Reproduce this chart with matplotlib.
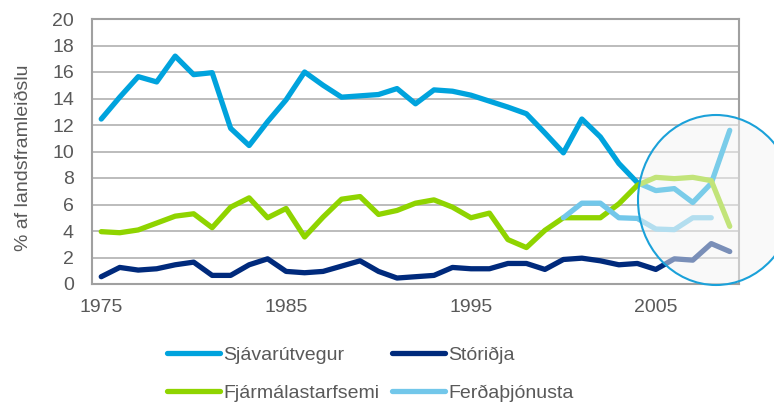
import numpy as np
import matplotlib
matplotlib.use("Agg")
import matplotlib.pyplot as plt
from matplotlib.patches import Ellipse

plt.rcParams['font.family'] = ['Liberation Sans', 'DejaVu Sans']

years = list(range(1975, 2010))

sjavarutvegur = [12.45, 14.1, 15.65, 15.25, 17.2, 15.8, 15.95, 11.75, 10.45, 12.25,
                 13.9, 16.0, 15.0, 14.1, 14.2, 14.3, 14.75, 13.6, 14.65, 14.55,
                 14.25, 13.8, 13.35, 12.85, 11.4, 9.9, 12.45, 11.1, 9.1, 7.65,
                 7.05, 7.2, 6.15, 7.6, 11.6]
storidja = [0.55, 1.25, 1.05, 1.15, 1.45, 1.65, 0.65, 0.65, 1.45, 1.9,
            0.95, 0.85, 0.95, 1.35, 1.75, 0.95, 0.45, 0.55, 0.65, 1.25,
            1.15, 1.15, 1.55, 1.55, 1.1, 1.85, 1.95, 1.75, 1.45, 1.55,
            1.1, 1.9, 1.8, 3.05, 2.45]
fjarmal = [3.95, 3.87, 4.08, 4.6, 5.12, 5.3, 4.25, 5.8, 6.5, 5.0,
           5.7, 3.55, 5.05, 6.4, 6.6, 5.25, 5.55, 6.1, 6.35, 5.8,
           5.0, 5.35, 3.35, 2.75, 4.05, 5.0, 5.0, 5.0, 6.05, 7.45,
           8.05, 7.95, 8.05, 7.8, 4.35]
ferda_years = list(range(2000, 2009))
ferdathjonusta = [5.0, 6.1, 6.1, 5.0, 4.95, 4.15, 4.1, 5.0, 5.0]

labels = ["Sjávarútvegur", "Stóriðja", "Fjármálastarfsemi", "Ferðaþjónusta"]
colors = ["#00A3DD", "#002A7C", "#8FD400", "#72C7EA"]
grey = "#595959"

fig = plt.figure(figsize=(7.74, 4.03), dpi=100)
ax = fig.add_axes([92/774, 1-284/403, 647/774, 265/403])

lw = 3.8
kw = dict(linewidth=lw, solid_capstyle='round', solid_joinstyle='round', zorder=3)
l1, = ax.plot(years, sjavarutvegur, color=colors[0], **kw)
l2, = ax.plot(years, storidja, color=colors[1], **kw)
l3, = ax.plot(years, fjarmal, color=colors[2], **kw)
l4, = ax.plot(ferda_years, ferdathjonusta, color=colors[3], **kw)

ax.set_xlim(1974.5, 2009.5)
ax.set_ylim(0, 20)
ax.set_yticks(range(0, 21, 2))
ax.set_xticks([1975, 1985, 1995, 2005])
ax.grid(axis='y', color='#B0B0B0', linewidth=1.2, zorder=1)
ax.set_axisbelow(True)
for s in ax.spines.values():
    s.set_color('#A0A0A0')
    s.set_linewidth(1.5)
ax.tick_params(axis='both', length=0, labelsize=14, colors=grey)
ax.tick_params(axis='y', pad=13)
ax.tick_params(axis='x', pad=11)

ax.set_ylabel("% af landsframleiðslu", fontsize=14, color=grey)
ax.yaxis.set_label_coords(-0.093, 0.475)

# highlight circle over the last years
circ = Ellipse((7.16, 2.03), 1.56, 1.70, transform=fig.dpi_scale_trans,
               facecolor=(0.96, 0.96, 0.96, 0.5), edgecolor='#1BA1D9',
               linewidth=1.5, zorder=5, clip_on=False)
fig.patches.append(circ)

# matplotlib fills legend columns first, so reorder to get rows like the original
leg = fig.legend([l1, l3, l2, l4], [labels[0], labels[2], labels[1], labels[3]],
                 ncol=2, loc='center',
                 bbox_to_anchor=(370/774, 1-374/403), frameon=False,
                 fontsize=14, handlelength=2.75, handletextpad=0.15,
                 columnspacing=0.65, labelspacing=1.05, borderpad=0)
for t in leg.get_texts():
    t.set_color(grey)

fig.savefig("out.png", dpi=100)
